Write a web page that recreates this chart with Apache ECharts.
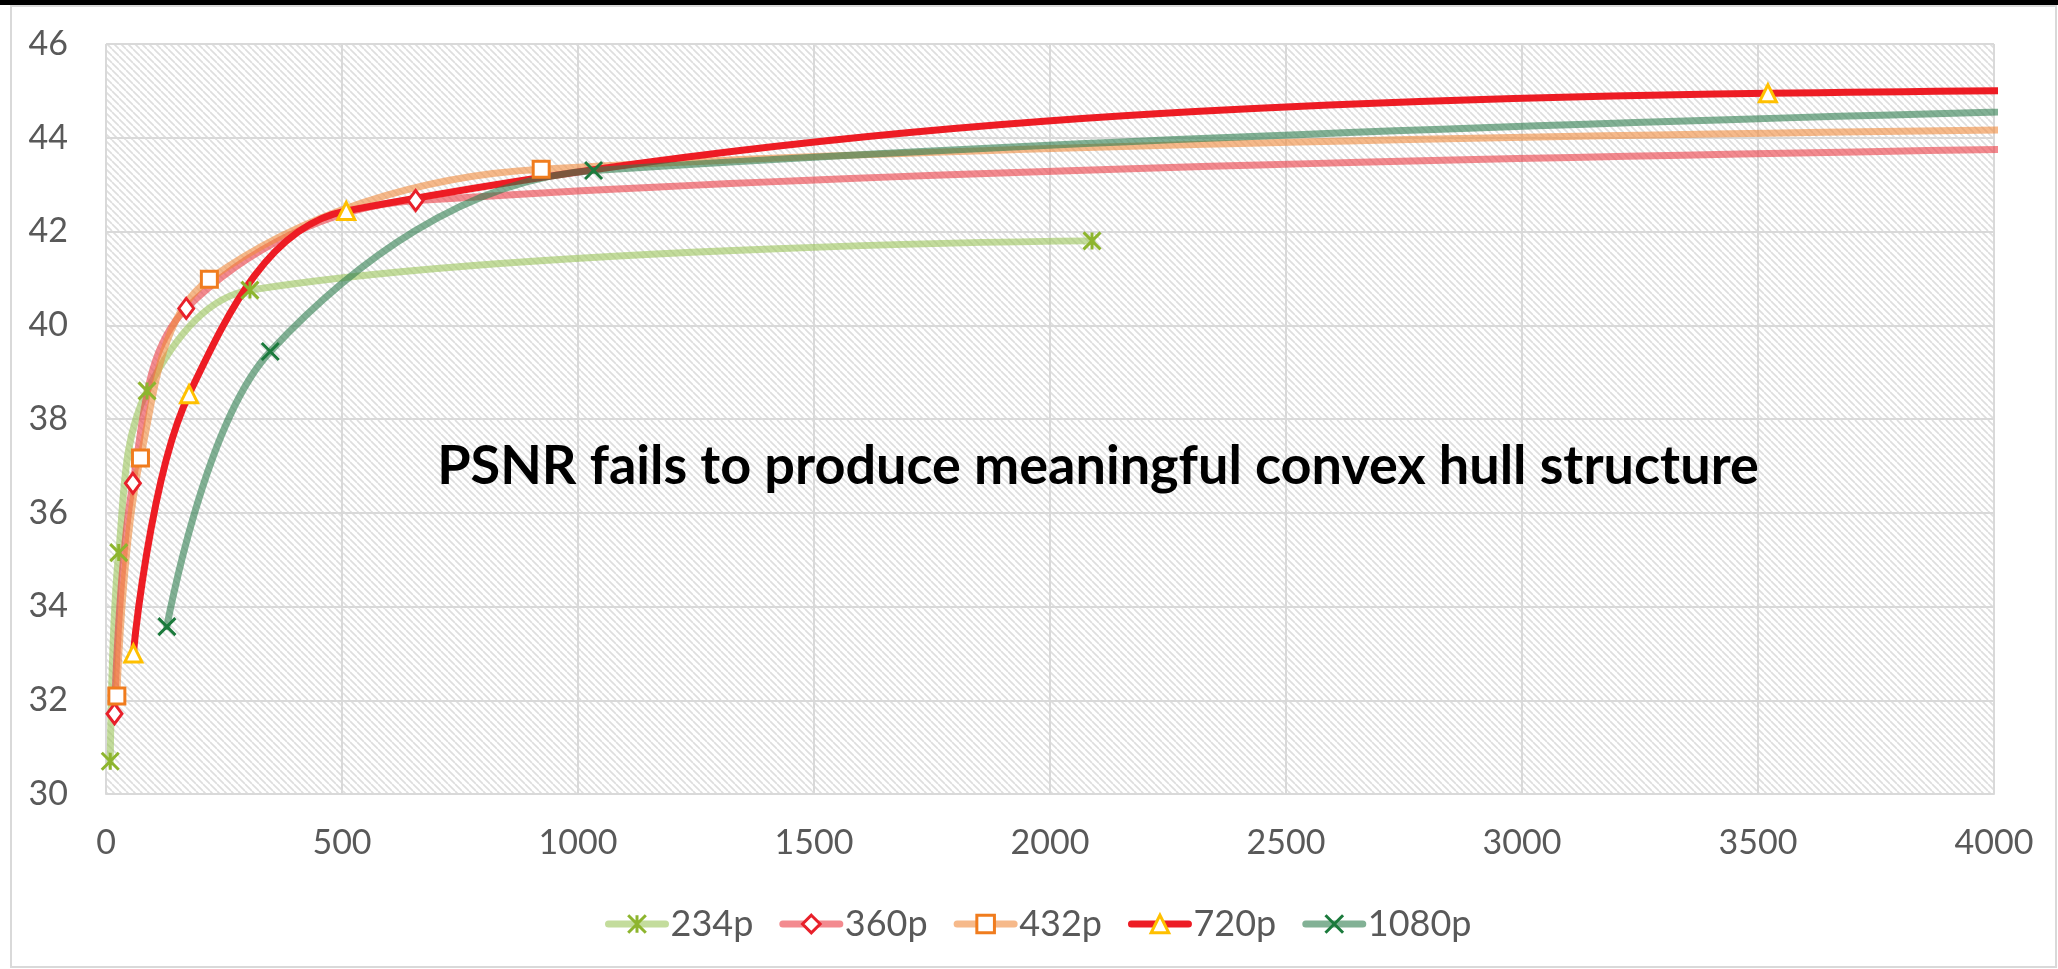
<!DOCTYPE html>
<html>
<head>
<meta charset="utf-8">
<title>PSNR convex hull</title>
<script src="https://cdn.jsdelivr.net/npm/echarts@6/dist/echarts.min.js"></script>
<style>
    html, body { margin: 0; padding: 0; background: #fff; }
    #chart_psnr { width: 2058px; height: 969px; }
</style>
</head>
<body>
<div id="chart_psnr"></div>
<script>

// Data
// ------------------------------

// Bitrate (kbps) and PSNR (dB) per encode resolution; last points of some
// series sit past the 4000 axis limit, Excel clipped them
var rate234p = [9, 27, 87, 305, 2089];
var psnr234p = [30.7, 35.15, 38.6, 40.75, 41.8];

var rate360p = [18, 57, 170, 656, 5500];
var psnr360p = [31.71, 36.63, 40.36, 42.66, 43.9];

var rate432p = [23, 73, 219, 922, 6000];
var psnr432p = [32.09, 37.17, 40.98, 43.33, 44.3];

var rate720p = [58, 176, 509, 3521, 6500];
var psnr720p = [33.0, 38.53, 42.44, 44.95, 45.1];

var rate1080p = [129, 348, 1033, 9000];
var psnr1080p = [33.57, 39.44, 43.3, 45.25];

var legendNames = ['234p', '360p', '432p', '720p', '1080p'];

var xTicks = { min: 0, max: 4000, interval: 500 };
var yTicks = { min: 30, max: 46, interval: 2 };

var titleText = 'PSNR fails to produce meaningful convex hull structure';


// Helpers
// ------------------------------

var zip = function (xs, ys) {
    var out = [];
    for (var i = 0; i < xs.length; i++) {
        out.push([xs[i], ys[i]]);
    }
    return out;
};

// Excel style "downward diagonal" hatch for the plot area
var makeHatch = function () {
    var size = 7;
    var cnv = document.createElement('canvas');
    cnv.width = size;
    cnv.height = size;
    var ctx = cnv.getContext('2d');
    ctx.fillStyle = '#ffffff';
    ctx.fillRect(0, 0, size, size);
    ctx.strokeStyle = '#dedede';
    ctx.lineWidth = 1.7;
    for (var k = -1; k <= 1; k++) {
        ctx.beginPath();
        ctx.moveTo(k * size, 0);
        ctx.lineTo(k * size + size, size);
        ctx.stroke();
    }
    return cnv;
};

var asteriskPath = 'path://M0,0L10,10M10,0L0,10M5,0L5,10';
var crossPath = 'path://M0,0L10,10M10,0L0,10';

var makeSeries = function (name, xs, ys, lineColor, lineOpacity, symbol, symbolSize, markerFill, markerColor) {
    return {
        name: name,
        type: 'line',
        data: zip(xs, ys),
        smooth: 0.35,
        clip: true,
        symbol: symbol,
        symbolSize: symbolSize,
        showAllSymbol: true,
        lineStyle: {
            color: lineColor,
            width: 7,
            opacity: lineOpacity,
            cap: 'round'
        },
        itemStyle: {
            color: markerFill,
            borderColor: markerColor,
            borderWidth: 3,
            opacity: 1
        },
        emphasis: { disabled: true }
    };
};


// Chart
// ------------------------------

var chart_element = document.getElementById('chart_psnr');
var psnr_chart = echarts.init(chart_element, null, { renderer: 'canvas' });

var labelFont = 'Lato, "Open Sans", sans-serif';

psnr_chart.setOption({

    animation: false,

    textStyle: {
        fontFamily: labelFont
    },

    // Setup grid
    grid: {
        left: 106,
        right: 64,
        top: 44,
        bottom: 175,
        show: true,
        borderWidth: 0,
        backgroundColor: { image: makeHatch(), repeat: 'repeat' }
    },

    // Add legend
    legend: {
        data: legendNames,
        left: 600,
        top: 899,
        itemWidth: 57,
        itemHeight: 22,
        itemGap: 26,
        textStyle: {
            color: '#595959',
            fontSize: 36,
            fontFamily: labelFont,
            lineHeight: 40
        },
        lineStyle: {
            width: 7,
            cap: 'round'
        },
        itemStyle: {
            borderWidth: 3
        }
    },

    // Horizontal axis
    xAxis: {
        type: 'value',
        min: xTicks.min,
        max: xTicks.max,
        interval: xTicks.interval,
        axisLabel: {
            color: '#595959',
            fontSize: 34,
            margin: 32,
            formatter: function (v) { return String(v); }
        },
        axisTick: { show: false },
        axisLine: {
            lineStyle: { color: '#d9d9d9', width: 2 }
        },
        splitLine: {
            show: true,
            lineStyle: { color: '#d9d9d9', width: 2 }
        }
    },

    // Vertical axis
    yAxis: {
        type: 'value',
        min: yTicks.min,
        max: yTicks.max,
        interval: yTicks.interval,
        axisLabel: {
            color: '#595959',
            fontSize: 34,
            margin: 38
        },
        axisTick: { show: false },
        axisLine: { show: false },
        splitLine: {
            lineStyle: { color: '#d9d9d9', width: 2 }
        }
    },

    // Frame, top strip and annotation
    graphic: [
        {
            type: 'rect',
            shape: { x: 0, y: 0, width: 2058, height: 5 },
            style: { fill: '#000' },
            silent: true
        },
        {
            type: 'rect',
            shape: { x: 11, y: 6, width: 2045, height: 961 },
            style: { fill: 'none', stroke: '#d9d9d9', lineWidth: 2 },
            silent: true
        },
        {
            type: 'text',
            x: 1098,
            y: 467,
            z: 100,
            style: {
                text: titleText,
                fill: '#000',
                font: 'bold 54px Lato, "Open Sans", sans-serif',
                align: 'center',
                verticalAlign: 'middle'
            },
            silent: true
        }
    ],

    // Add series
    series: [
        makeSeries('234p', rate234p, psnr234p, '#9bc45a', 0.6, asteriskPath, 17, '#8db52e', '#8db52e'),
        makeSeries('360p', rate360p, psnr360p, '#eb3c45', 0.6, 'diamond', [15, 20], '#ffffff', '#e8202a'),
        makeSeries('432p', rate432p, psnr432p, '#f08a3c', 0.6, 'rect', 16, '#ffffff', '#f07c1e'),
        makeSeries('720p', rate720p, psnr720p, '#ed1c24', 1, 'triangle', 17, '#ffffff', '#ffc000'),
        makeSeries('1080p', rate1080p, psnr1080p, '#2e7d4f', 0.6, crossPath, 17, '#1b7a3c', '#1b7a3c')
    ]
});

</script>
</body>
</html>
